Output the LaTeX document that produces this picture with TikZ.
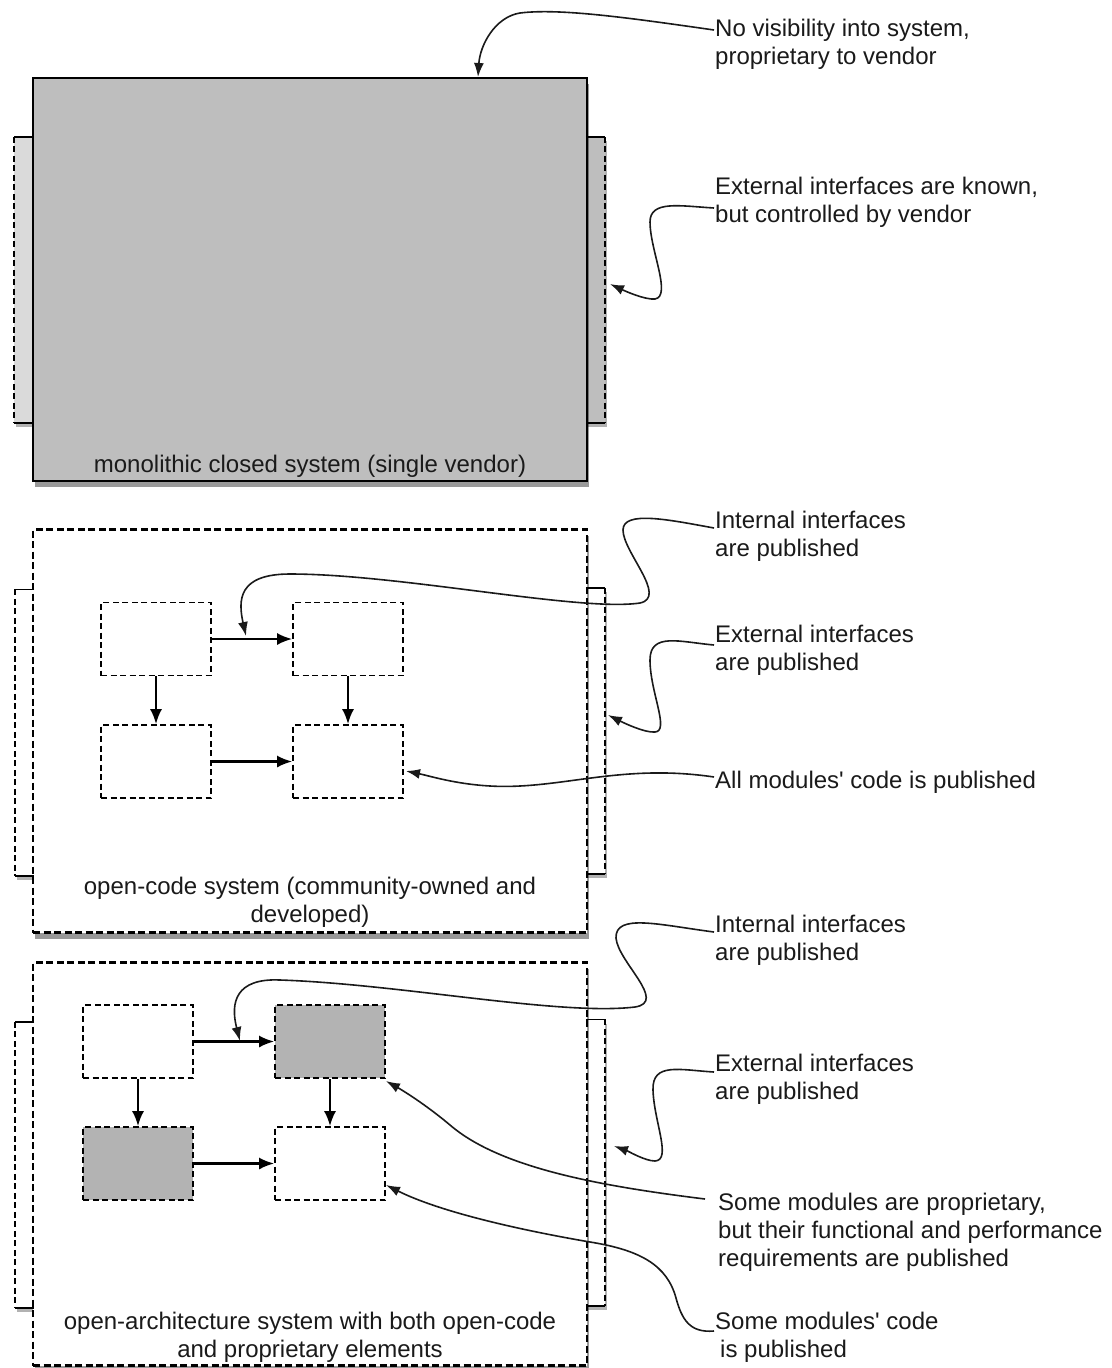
\documentclass[tikz,border=0pt]{standalone}
\usepackage{fontspec}
\setmainfont{Liberation Sans}
\newfontfamily\lbfont{Liberation Sans}
\usetikzlibrary{arrows.meta,shadows}
\definecolor{boxgray}{HTML}{BEBEBE}
\definecolor{modgray}{HTML}{B3B3B3}
\definecolor{tablight}{HTML}{DADADA}
\definecolor{ink}{HTML}{1A1A1A}
\begin{document}
\begin{tikzpicture}[x=1pt,y=-1pt,
  lbl/.style={font=\lbfont\fontsize{24pt}{28pt}\selectfont, text=ink, inner sep=0pt, align=left, anchor=west},
  boxlbl/.style={font=\lbfont\fontsize{24pt}{28pt}\selectfont, text=ink, inner sep=0pt, align=center},
  bshadow/.style={drop shadow={shadow xshift=1.5pt, shadow yshift=-6pt, opacity=0.4, fill=black}},
  bigbox/.style={line width=2.2pt, minimum width=554pt, minimum height=403pt, inner sep=0pt, bshadow},
  solidbox/.style={bigbox, draw=black, fill=boxgray},
  dashbox/.style={bigbox, draw=black, fill=white, dash pattern=on 7pt off 3.5pt},
  tabbox/.style={inner sep=0pt, minimum width=19pt, minimum height=286pt, drop shadow={shadow xshift=1.5pt, shadow yshift=-4pt, opacity=0.3, fill=black}},
  tabsolid/.style={line width=1.6pt},
  tabdash/.style={line width=1.6pt, dash pattern=on 6pt off 3.5pt},
  mod/.style={draw=black, line width=1.7pt, dash pattern=on 6pt off 3.5pt, minimum width=110pt, minimum height=73pt, inner sep=0pt, fill=white},
  pmod/.style={mod, fill=modgray},
  arr/.style={line width=2.2pt, -{Latex[length=15pt,width=12pt]}},
  call/.style={line width=1.6pt, draw=ink, -{Latex[length=14pt,width=10pt]}}
]
\useasboundingbox (0,0) rectangle (1111,1368);
\fill[white] (0,0) rectangle (1111,1368);

% ---------- top: monolithic closed system ----------
\node[tabbox, fill=tablight] (t1l) at (23.5,280) {};
\node[tabbox, fill=boxgray] (t1r) at (595.5,280) {};
\node[solidbox] (mono) at (310,279.5) {};
\node[boxlbl] (monolbl) at (310,466) {monolithic closed system (single vendor)};

% ---------- middle: open-code system ----------
\node[tabbox, fill=white] (t2l) at (24.5,732.5) {};
\node[tabbox, fill=white] (t2r) at (595.5,731) {};
\node[dashbox] (open) at (310,731) {};
\node[mod] (A) at (156,639) {};
\node[mod] (B) at (348,639) {};
\node[mod] (C) at (156,761.5) {};
\node[mod] (D) at (348,761.5) {};
\draw[arr] (A.east) -- (B.west);
\draw[arr] (A.south) -- (C.north);
\draw[arr] (B.south) -- (D.north);
\draw[arr] (C.east) -- (D.west);
\node[boxlbl] (openlbl) at (310,902.5) {open-code system (community-owned and\\developed)};

% ---------- bottom: open-architecture system ----------
\node[tabbox, fill=white] (t3l) at (24.5,1165) {};
\node[tabbox, fill=white] (t3r) at (595.5,1162.5) {};
\node[dashbox] (arch) at (310,1164) {};
\node[mod] (E) at (138,1041.5) {};
\node[pmod] (F) at (330,1041.5) {};
\node[pmod] (G) at (138,1163.5) {};
\node[mod] (H) at (330,1163.5) {};
\draw[arr] (E.east) -- (F.west);
\draw[arr] (E.south) -- (G.north);
\draw[arr] (F.south) -- (H.north);
\draw[arr] (G.east) -- (H.west);
\node[boxlbl] (archlbl) at (310,1337) {open-architecture system with both open-code\\and proprietary elements};

% tab edges
\foreach \t in {t1l,t2l,t3l}{
  \draw[tabsolid] (\t.north east) -- (\t.north west) (\t.south west) -- (\t.south east);
  \draw[tabdash] (\t.north west) -- (\t.south west);
}
\foreach \t in {t1r,t2r,t3r}{
  \draw[tabsolid] (\t.north west) -- (\t.north east) (\t.south east) -- (\t.south west);
  \draw[tabdash] (\t.north east) -- (\t.south east);
}

% ---------- callout texts ----------
\node[lbl] (n1) at (715,44) {No visibility into system,\\proprietary to vendor};
\node[lbl] (n2) at (715,202) {External interfaces are known,\\but controlled by vendor};
\node[lbl] (n3) at (715,536.5) {Internal interfaces\\are published};
\node[lbl] (n4) at (715,650) {External interfaces\\are published};
\node[lbl] (n5) at (715,782) {All modules' code is published};
\node[lbl] (n6) at (715,940) {Internal interfaces\\are published};
\node[lbl] (n7) at (715,1079) {External interfaces\\are published};
\node[lbl] (n8) at (718,1232) {Some modules are proprietary,\\but their functional and performance\\requirements are published};
\node[lbl] (n9) at (715,1337) {Some modules' code\\\hspace{5pt}is published};

% callout end points
\coordinate (s1) at (714,30);   \coordinate (e1) at (478,77);
\coordinate (s2) at (714,208);  \coordinate (e2) at (610,284);
\coordinate (s3) at (714,528);  \coordinate (e3) at (246,636);
\coordinate (s4) at (714,645);  \coordinate (e4) at (608,715);
\coordinate (s5) at (714,777);  \coordinate (e5) at (406,771);
\coordinate (s6) at (714,932);  \coordinate (e6) at (240,1041);
\coordinate (s7) at (714,1072); \coordinate (e7) at (614,1146);
\coordinate (s8) at (705,1199); \coordinate (e8) at (386,1081);
\coordinate (s9) at (714,1331); \coordinate (e9) at (386,1185);

% ---------- callout curves ----------
\draw[call] (s1) .. controls (630,18) and (560,8) .. (520,13) .. controls (495,17) and (480,45) .. (e1);
\draw[call] (s2) .. controls (680,206) and (650,200) .. (650,222) .. controls (650,250) and (672,296) .. (655,299) .. controls (645,300) and (625,291) .. (e2);
\draw[call] (s3) .. controls (670,520) and (623,510) .. (623,530) .. controls (623,552) and (668,597) .. (640,603) .. controls (580,612) and (400,574) .. (290,574) .. controls (238,574) and (238,600) .. (e3);
\draw[call] (s4) .. controls (680,642) and (650,632) .. (650,660) .. controls (650,692) and (670,731) .. (655,732) .. controls (645,733) and (624,723) .. (e4);
\draw[call] (s5) .. controls (620,763) and (560,790) .. (490,786) .. controls (455,784) and (430,776) .. (e5);
\draw[call] (s6) .. controls (660,925) and (615,913) .. (616,938) .. controls (618,962) and (668,1002) .. (635,1007) .. controls (560,1016) and (400,984) .. (280,980) .. controls (236,978) and (230,1002) .. (e6);
\draw[call] (s7) .. controls (680,1070) and (652,1062) .. (653,1090) .. controls (654,1122) and (672,1160) .. (655,1161) .. controls (645,1161) and (628,1151) .. (e7);
\draw[call] (s8) .. controls (600,1186) and (500,1168) .. (450,1125) .. controls (425,1104) and (402,1090) .. (e8);
\draw[call] (s9) .. controls (690,1333) and (682,1320) .. (676,1298) .. controls (667,1265) and (640,1250) .. (590,1242) .. controls (520,1230) and (440,1212) .. (e9);
\end{tikzpicture}
\end{document}
